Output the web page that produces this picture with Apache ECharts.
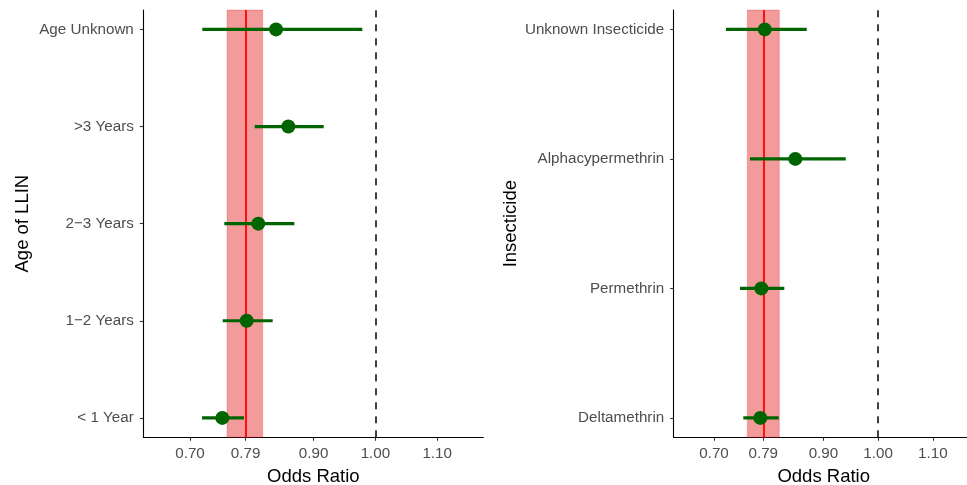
<!DOCTYPE html>
<html>
<head>
<meta charset="utf-8">
<script src="https://cdn.jsdelivr.net/npm/echarts@6/dist/echarts.min.js"></script>
<style>
html,body{margin:0;padding:0;background:#fff;}
#chart{width:967px;height:485px;}
</style>
</head>
<body>
<div id="chart"></div>
<script>
// ---- data ----
const ageCategories = ['< 1 Year', '1\u22122 Years', '2\u22123 Years', '>3 Years', 'Age Unknown'];
const ageOR    = [0.7523, 0.7917, 0.8105, 0.8591, 0.8392];
const ageLower = [0.7194, 0.7529, 0.7555, 0.8047, 0.7199];
const ageUpper = [0.7874, 0.8338, 0.8688, 0.9163, 0.9788];
const agePooled = [0.7890, 0.7599, 0.8176]; // estimate, lower, upper

const insCategories = ['Deltamethrin', 'Permethrin', 'Alphacypermethrin', 'Unknown Insecticide'];
const insOR    = [0.7846, 0.7865, 0.8486, 0.7927];
const insLower = [0.7536, 0.7475, 0.7658, 0.7219];
const insUpper = [0.8183, 0.8285, 0.9408, 0.8695];
const insPooled = [0.7909, 0.7609, 0.8194];

const nullValue = 1.00;
const xTicks = [0.70, 0.79, 0.90, 1.00, 1.10];

// ---- chart ----
const FONT = '"Liberation Sans", Arial, sans-serif';
const GREEN = '#006400';

function xAxisDef(gridIndex, min, max) {
  return {
    type: 'value', gridIndex, min, max,
    name: 'Odds Ratio', nameLocation: 'middle', nameGap: 30,
    nameTextStyle: { color: '#000', fontSize: 18.5, fontFamily: FONT },
    axisLine: { show: true, onZero: false, lineStyle: { color: '#000', width: 1.1 } },
    axisTick: { show: true, length: 3.5, customValues: xTicks, lineStyle: { color: '#333', width: 1.1 } },
    axisLabel: { customValues: xTicks, margin: 9.5, color: '#4d4d4d', fontSize: 15.2, fontFamily: FONT,
                 formatter: v => v.toFixed(2) },
    splitLine: { show: false }
  };
}
function yAxisDef(gridIndex, cats, name, gap) {
  const idx = cats.map((c, i) => i);
  const pad = (cats.length - 1) * 0.05;
  return {
    type: 'value', gridIndex, min: -pad, max: cats.length - 1 + pad,
    name, nameLocation: 'middle', nameGap: gap, nameRotate: 90,
    nameTextStyle: { color: '#000', fontSize: 18.5, fontFamily: FONT },
    axisLine: { show: true, onZero: false, lineStyle: { color: '#000', width: 1.1 } },
    axisTick: { show: true, length: 3.5, customValues: idx, lineStyle: { color: '#333', width: 1.1 } },
    axisLabel: { customValues: idx, margin: 9.5, color: '#4d4d4d', fontSize: 15.2, fontFamily: FONT,
                 formatter: v => cats[Math.round(v)] },
    splitLine: { show: false }
  };
}
function panelSeries(axisIndex, cats, est, lo, hi, pooled) {
  const barData = cats.map((c, i) => [lo[i], hi[i], i]);
  const ptData = cats.map((c, i) => [est[i], i]);
  return [
    {
      type: 'line', xAxisIndex: axisIndex, yAxisIndex: axisIndex, data: [], z: 1, silent: true,
      markArea: {
        silent: true,
        itemStyle: { color: 'rgba(228,26,28,0.44)', borderColor: 'rgba(228,26,28,0.25)', borderWidth: 1 },
        data: [[{ xAxis: pooled[1] }, { xAxis: pooled[2] }]]
      },
      markLine: {
        silent: true, symbol: ['none', 'none'], label: { show: false },
        data: [
          { xAxis: pooled[0], lineStyle: { color: '#ff0000', width: 1.8, type: 'solid' } },
          { xAxis: nullValue, lineStyle: { color: '#000', width: 1.5, type: [7, 7] } }
        ]
      }
    },
    {
      type: 'custom', xAxisIndex: axisIndex, yAxisIndex: axisIndex, z: 10, silent: true,
      data: barData,
      renderItem: function (params, api) {
        const p1 = api.coord([api.value(0), api.value(2)]);
        const p2 = api.coord([api.value(1), api.value(2)]);
        return {
          type: 'line',
          shape: { x1: p1[0], y1: p1[1], x2: p2[0], y2: p2[1] },
          style: { stroke: GREEN, lineWidth: 3.2 }
        };
      }
    },
    {
      type: 'scatter', xAxisIndex: axisIndex, yAxisIndex: axisIndex, z: 11, silent: true,
      symbol: 'circle', symbolSize: 14, itemStyle: { color: GREEN, opacity: 1 },
      data: ptData
    }
  ];
}

const chart = echarts.init(document.getElementById('chart'), null, { renderer: 'canvas' });
chart.setOption({
  animation: false,
  backgroundColor: '#fff',
  grid: [
    { left: 143.3, top: 10, width: 340, height: 427.3, containLabel: false, outerBoundsMode: 'none' },
    { left: 673.7, top: 10, width: 300, height: 427.3, containLabel: false, outerBoundsMode: 'none' }
  ],
  xAxis: [xAxisDef(0, 0.6244, 1.1746), xAxisDef(1, 0.6263, 1.1747)],
  yAxis: [yAxisDef(0, ageCategories, 'Age of LLIN', 110.5), yAxisDef(1, insCategories, 'Insecticide', 153.5)],
  series: [
    ...panelSeries(0, ageCategories, ageOR, ageLower, ageUpper, agePooled),
    ...panelSeries(1, insCategories, insOR, insLower, insUpper, insPooled)
  ]
});
</script>
</body>
</html>
